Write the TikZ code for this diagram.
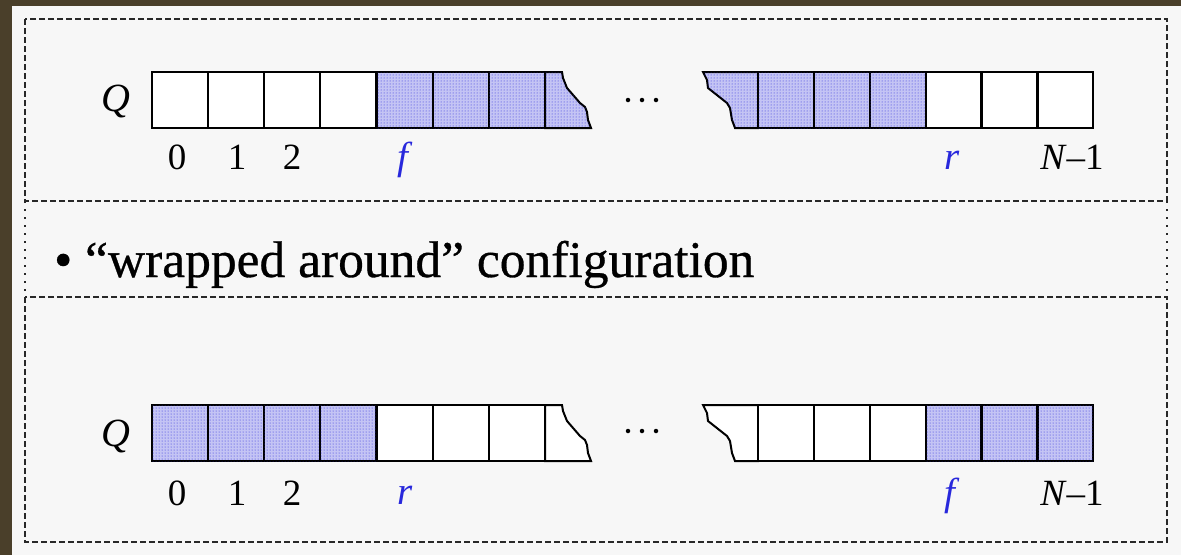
\documentclass[tikz,border=0pt]{standalone}
\usepackage{fontspec}
\setmainfont{Liberation Serif}
\usetikzlibrary{patterns}
\definecolor{bgbrown}{RGB}{74,63,42}
\definecolor{panel}{RGB}{247,247,247}
\definecolor{qblue}{RGB}{40,40,220}
\definecolor{shade}{RGB}{196,196,244}
\definecolor{dashgray}{RGB}{40,40,40}
\tikzset{
  cell/.style={draw=black, line width=2pt, minimum width=56pt, minimum height=56pt,
    inner sep=0pt, outer sep=0pt, anchor=north west},
  full/.style={cell, fill=shade, postaction={pattern=dots, pattern color=qblue}},
  brokenfull/.style={draw=black, line width=2pt, line join=miter, fill=shade,
    postaction={pattern=dots, pattern color=qblue}},
  brokenempty/.style={draw=black, line width=2pt, line join=miter, fill=white},
  lbl/.style={font=\fontsize{37}{37}\selectfont, inner sep=0pt},
  ptr/.style={lbl, text=qblue, font=\fontsize{39}{39}\selectfont\itshape},
  frame/.style={draw=dashgray, line width=2.8pt, dash pattern=on 6pt off 3pt},
  dotline/.style={draw=dashgray, line width=2.8pt, dash pattern=on 2pt off 6pt},
  dotdot/.style={fill=black, circle, inner sep=0pt, minimum size=4.5pt},
}
\begin{document}
\begin{tikzpicture}[x=1pt, y=-1pt]
\useasboundingbox (0,0) rectangle (1181,555);
\fill[bgbrown] (0,0) rectangle (1181,555);
\fill[panel] (12,6) rectangle (1181,555);

% frames
\draw[frame] (25,19) rectangle (1167,201);
\draw[frame] (25,297) rectangle (1167,542);
\draw[dotline] (25,201) -- (25,297);
\draw[dotline] (1167,201) -- (1167,297);

% middle text
\node[anchor=base west, inner sep=0pt, font=\fontsize{51.5}{51.5}\selectfont\addfontfeature{FakeBold=0.6}] (cfg) at (54,277)
  {\textbullet\ “wrapped around” configuration};

% ---------- top array ----------
\foreach \i/\x in {0/152,1/208,2/264,3/320} {\node[cell, fill=white] (t\i) at (\x,72) {};}
\foreach \i/\x in {4/377,5/433,6/489} {\node[full] (t\i) at (\x,72) {};}
\path[brokenfull] (545,72) -- (562,72) -- (563,78) -- (565,83) -- (567,88) -- (580,103) -- (585,107)
  -- (587,112) -- (588,120) -- (591,128) -- (545,128) -- cycle;
\path[brokenfull] (758,72) -- (703,72) -- (707,80) -- (708,88) -- (727,103) -- (730,108) -- (732,120)
  -- (735,128) -- (758,128) -- cycle;
\foreach \i/\x in {a/758,b/814,c/870} {\node[full] (t\i) at (\x,72) {};}
\foreach \i/\x in {d/926,e/982,f/1038} {\node[cell, fill=white, minimum width=55pt] (t\i) at (\x,72) {};}
\foreach \p in {628,642,656} {\node[dotdot] (td\p) at (\p,100) {};}

\node[lbl, font=\fontsize{40}{40}\selectfont] (tq) at (116,101) {\itshape Q};
\node[lbl] (t0l) at (177,157) {0};
\node[lbl] (t1l) at (237,157) {1};
\node[lbl] (t2l) at (292,157) {2};
\node[ptr] (tf) at (403,160) {f};
\node[ptr] (tr) at (952,160) {r};
\node[lbl] (tn) at (1072,157) {\itshape N\/\upshape –1};

% ---------- bottom array ----------
\foreach \i/\x in {0/152,1/208,2/264,3/320} {\node[full] (b\i) at (\x,405) {};}
\foreach \i/\x in {4/377,5/433,6/489} {\node[cell, fill=white] (b\i) at (\x,405) {};}
\path[brokenempty] (545,405) -- (562,405) -- (563,411) -- (565,416) -- (567,421) -- (580,436) -- (585,440)
  -- (587,445) -- (588,453) -- (591,461) -- (545,461) -- cycle;
\path[brokenempty] (758,405) -- (703,405) -- (707,413) -- (708,421) -- (727,436) -- (730,441) -- (732,453)
  -- (735,461) -- (758,461) -- cycle;
\foreach \i/\x in {a/758,b/814,c/870} {\node[cell, fill=white] (b\i) at (\x,405) {};}
\foreach \i/\x in {d/926,e/982,f/1038} {\node[full, minimum width=55pt] (b\i) at (\x,405) {};}
\foreach \p in {628,642,656} {\node[dotdot] (bd\p) at (\p,431) {};}

\node[lbl, font=\fontsize{40}{40}\selectfont] (bq) at (116,436) {\itshape Q};
\node[lbl] (b0l) at (177,493) {0};
\node[lbl] (b1l) at (237,493) {1};
\node[lbl] (b2l) at (292,493) {2};
\node[ptr] (br) at (405,495) {r};
\node[ptr] (bf) at (950,496) {f};
\node[lbl] (bn) at (1072,493) {\itshape N\/\upshape –1};
\end{tikzpicture}
\end{document}
